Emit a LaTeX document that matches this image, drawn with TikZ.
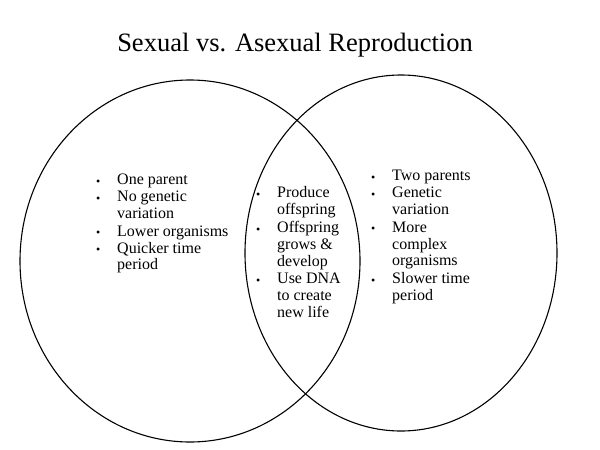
\documentclass[tikz,border=0pt]{standalone}
\usepackage{fontspec}
\setmainfont{Liberation Serif}
\newcommand{\bitem}[1]{\makebox[21pt][l]{\raisebox{-0.5pt}{\large\textbullet}}\begin{tabular}[t]{@{}l@{}}#1\end{tabular}\\}
\begin{document}
\begin{tikzpicture}[x=1pt,y=-1pt,
    ring/.style={line width=1.1pt,black},
    listbox/.style={anchor=north west,inner sep=0pt,align=left,font=\fontsize{16}{16.8}\selectfont}]
        \useasboundingbox (0,0) rectangle (600,450);
        %\draw[help lines] (0,0) grid (600,450);
        \node[font=\fontsize{26.5}{30}\selectfont] (title) at (295,45) {Sexual vs. Asexual Reproduction};
        \draw[ring] (190,261) ellipse (170 and 181);
        \draw[ring] (401,253) ellipse (156 and 178);
        \node[listbox] (asexual) at (96,173)
            {\bitem{One parent}\bitem{No genetic\\variation}\bitem{Lower organisms}\bitem{Quicker time\\period}};
        \node[listbox] (both) at (256,186)
            {\bitem{Produce\\offspring}\bitem{Offspring\\grows \&\\develop}\bitem{Use DNA\\to create\\new life}};
        \node[listbox] (sexual) at (371,169)
            {\bitem{Two parents}\bitem{Genetic\\variation}\bitem{More\\complex\\organisms}\bitem{Slower time\\period}};
\end{tikzpicture}
\end{document}
